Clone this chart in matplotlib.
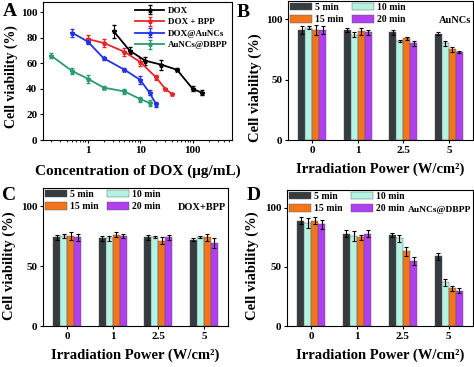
import matplotlib
matplotlib.use("Agg")
import matplotlib.pyplot as plt
import numpy as np
from matplotlib.ticker import FuncFormatter, LogLocator, NullFormatter

plt.rcParams["font.family"] = ["Liberation Serif", "DejaVu Serif"]
plt.rcParams["font.weight"] = "bold"
plt.rcParams["axes.labelweight"] = "bold"

# Panel A: concentration series
dox_x = [3.125, 6.25, 12.5, 25, 50, 100, 150]
dox_y = [85, 70, 62, 59, 55, 40, 37]
dox_e = [5, 3, 3, 4, 1, 2, 2]
bpp_x = [1, 2, 5, 10, 20, 30, 40]
bpp_y = [79, 76, 69, 61, 49, 40, 36]
bpp_e = [3, 3, 3, 3, 2, 1, 1]
au_x = [0.5, 1, 2, 5, 10, 15, 20]
au_y = [84, 77, 64, 55, 47, 37, 28]
au_e = [3, 2, 1, 1, 3, 2, 2]
dbpp_x = [0.2, 0.5, 1, 2, 5, 10, 15]
dbpp_y = [66, 54, 48, 41, 38, 32, 29]
dbpp_e = [2, 2, 3, 1, 2, 2, 2]

# Panels B-D: irradiation power
powers = ["0", "1", "2.5", "5"]
times = ["5 min", "10 min", "15 min", "20 min"]
b_vals = [[91, 91, 89, 88], [93, 87, 82, 80], [91, 90, 84, 75], [91, 89, 80, 73]]
b_errs = [[3, 2, 2, 1], [1, 2, 1, 2], [4, 3, 1, 2], [3, 2, 2, 1]]
c_vals = [[74, 73, 74, 72], [75, 73, 74, 74], [75, 76, 71, 74], [74, 75, 74, 69]]
c_errs = [[2, 2, 2, 1], [2, 2, 1, 1], [3, 2, 3, 3], [3, 2, 2, 4]]
d_vals = [[89, 78, 77, 59], [87, 76, 74, 37], [89, 75, 63, 32], [86, 78, 55, 30]]
d_errs = [[3, 3, 2, 3], [4, 4, 3, 3], [3, 2, 4, 2], [4, 3, 3, 2]]

bar_colors = ["#363b3f", "#b4f2e2", "#f2741c", "#b13ff0"]

fig = plt.figure(figsize=(4.74, 3.67), dpi=100)
W, H = 474, 367


def add_ax(l, r, t, b):
    return fig.add_axes([l / W, 1 - b / H, (r - l) / W, (b - t) / H])


def place_ylabel(ax, box, xc, yc):
    # put the y label centre at a given pixel position
    l, r, t, b = box
    ax.yaxis.label.set_va("center")
    ax.yaxis.set_label_coords((xc - l) / (r - l), (b - yc) / (b - t))


# ---- A
boxA = (43, 232, 2, 140)
ax = add_ax(*boxA)
series = [
    (dox_x, dox_y, dox_e, "black", "DOX"),
    (bpp_x, bpp_y, bpp_e, "#e8262a", "DOX + BPP"),
    (au_x, au_y, au_e, "#2233e6", "DOX@AuNCs"),
    (dbpp_x, dbpp_y, dbpp_e, "#2a9c72", "AuNCs@DBPP"),
]
for x, y, e, c, lab in series:
    ax.errorbar(x, y, yerr=e, color=c, lw=1.3, marker="*", ms=3.5,
                capsize=1.5, elinewidth=0.8, label=lab)
ax.set_xscale("log")
ax.set_xlim(0.14, 560)
ax.set_ylim(0, 108)
ax.set_yticks([0, 20, 40, 60, 80, 100])
ax.xaxis.set_major_formatter(FuncFormatter(lambda v, p: f"{v:g}"))
ax.xaxis.set_minor_locator(LogLocator(base=10, subs=np.arange(2, 10)))
ax.xaxis.set_minor_formatter(NullFormatter())
ax.tick_params(labelsize=8, length=2.5, width=0.8, pad=1.5)
ax.tick_params(which="minor", length=1.5)
ax.set_xlabel("Concentration of DOX (μg/mL)", fontsize=11, labelpad=7)
ax.set_ylabel("Cell viability (%)", fontsize=10)
place_ylabel(ax, boxA, 11, 77)
ax.legend(loc="upper right", frameon=False, fontsize=6.5, handlelength=3.2,
          borderaxespad=0.1, labelspacing=0.35, handletextpad=0.4)
fig.text(3 / W, 1 - 16 / H, "A", fontsize=14, fontweight="bold")


# ---- B, C, D
def bar_panel(box, vals, errs, tag, letter, lpos, ylab_c, tag_size=7.5):
    ax = add_ax(*box)
    idx = np.arange(len(powers))
    w = 0.155
    bars = []
    for i, (v, e) in enumerate(zip(vals, errs)):
        bars.append(ax.bar(idx + (i - 1.5) * w, v, w, yerr=e,
                           color=bar_colors[i], edgecolor="#555555",
                           linewidth=0.3, label=times[i],
                           error_kw=dict(elinewidth=0.8, capsize=1.5,
                                         capthick=0.8)))
    ax.set_xlim(-0.53, 3.53)
    ax.set_ylim(0, 115)
    ax.set_yticks([0, 50, 100])
    ax.set_xticks(idx)
    ax.set_xticklabels(powers)
    ax.tick_params(labelsize=8, length=2.5, width=0.8, pad=1.5)
    ax.set_xlabel("Irradiation Power (W/cm²)", fontsize=10.5, labelpad=6)
    ax.set_ylabel("Cell viability (%)", fontsize=10.5)
    place_ylabel(ax, box, *ylab_c)
    # rows: 5/10 on top, 15/20 below
    order = [0, 2, 1, 3]
    ax.legend([bars[i] for i in order], [times[i] for i in order],
              loc="upper left", ncol=2, frameon=False, fontsize=7,
              handlelength=2.3, handleheight=0.75, columnspacing=0.8,
              handletextpad=0.3, labelspacing=0.35, borderaxespad=0.05,
              borderpad=0.15)
    ax.text(0.99, 0.84, tag, transform=ax.transAxes, ha="right",
            fontsize=tag_size, fontweight="bold")
    fig.text(lpos[0] / W, 1 - lpos[1] / H, letter, fontsize=14,
             fontweight="bold")


bar_panel((288, 473, 1, 140), b_vals, b_errs, "AuNCs", "B", (237, 17),
          (255, 88))
bar_panel((43, 228, 188, 326), c_vals, c_errs, "DOX+BPP", "C", (2, 200),
          (9, 266))
bar_panel((287, 473, 190, 326), d_vals, d_errs, "AuNCs@DBPP", "D", (247, 200),
          (252, 266), tag_size=6.8)

fig.savefig("out.png", dpi=100)
